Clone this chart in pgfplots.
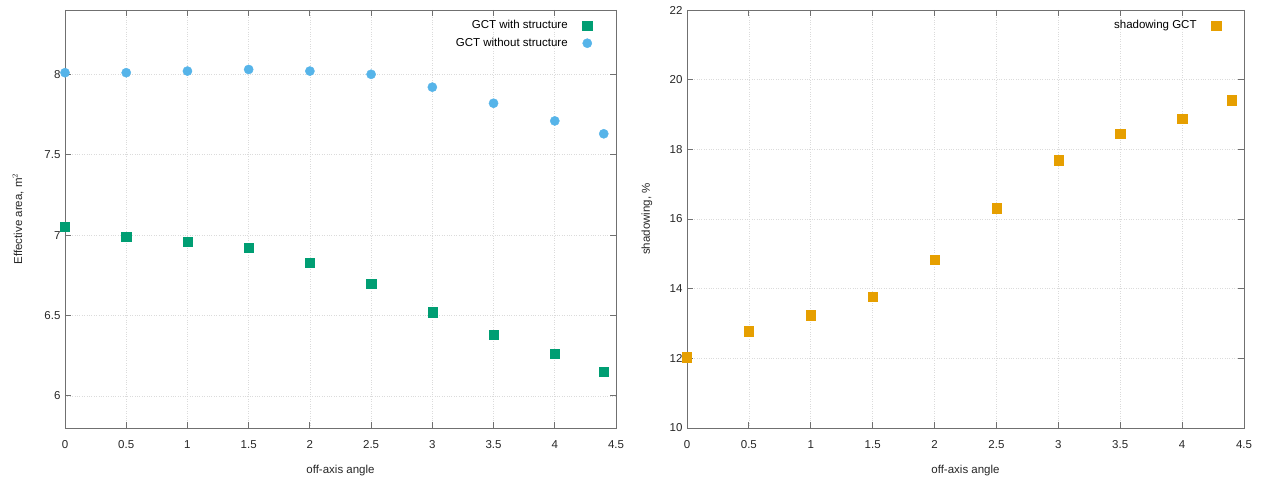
\documentclass[border=0pt]{standalone}
\usepackage{fontspec}
\setmainfont{Liberation Sans}
\usepackage{pgfplots}
\pgfplotsset{compat=1.18}
\definecolor{cgreen}{HTML}{009E73}
\definecolor{cblue}{HTML}{56B4E9}
\definecolor{corange}{HTML}{E69F00}
\definecolor{axgray}{HTML}{707070}
\pgfplotsset{
  myax/.style={
    scale only axis,
    width=551pt, height=418pt,
    font=\fontsize{11.5}{13}\selectfont,
    /pgf/number format/assume math mode=true,
    axis line style={axgray, line width=0.9pt},
    tick style={axgray, line width=0.9pt},
    major tick length=6pt,
    tick align=inside,
    xtick pos=both, ytick pos=both,
    grid=major,
    major grid style={dotted, gray!28, line width=0.6pt},
    tick label style={black!85},
    xmin=0, xmax=4.5,
    xtick={0,0.5,...,4.5},
    xticklabels={0,0.5,1,1.5,2,2.5,3,3.5,4,4.5},
    xticklabel style={yshift=-9pt},
    yticklabel style={xshift=-1pt},
    every axis x label/.style={at={(axis description cs:0.5,0)}, anchor=center, yshift=-43pt, black!85},
    legend cell align=right,
    legend plot pos=right,
    legend style={draw=none, fill=none, anchor=north east, font=\fontsize{11.5}{13}\selectfont, row sep=4pt, column sep=13pt},
  }
}
\begin{document}
\begin{tikzpicture}
\path[use as bounding box] (0,0) rectangle (1261pt,478pt);
\begin{axis}[myax,
  at={(65pt,50pt)}, anchor=south west,
  ymin=5.8, ymax=8.4,
  ytick={6,6.5,7,7.5,8},
  yticklabels={6,6.5,7,7.5,8},
  xlabel={off-axis angle},
  ylabel={Effective area, m$^2$},
  every axis y label/.style={at={(axis description cs:-0.0853,0.5)}, rotate=90, anchor=center, black!85},
  legend style={at={(axis description cs:0.962,0.985)}},
]
\addplot[only marks, mark=square*, mark size=4.6pt, cgreen, mark options={draw=cgreen, fill=cgreen}] coordinates {
(0,7.05) (0.5,6.99) (1,6.96) (1.5,6.92) (2,6.83) (2.5,6.70) (3,6.52) (3.5,6.38) (4,6.26) (4.4,6.15)};
\addlegendentry{GCT with structure}
\addplot[only marks, mark=*, mark size=4.6pt, cblue, mark options={draw=cblue, fill=cblue}] coordinates {
(0,8.01) (0.5,8.01) (1,8.02) (1.5,8.03) (2,8.02) (2.5,8.00) (3,7.92) (3.5,7.82) (4,7.71) (4.4,7.63)};
\addlegendentry{GCT without structure}
\end{axis}
\begin{axis}[myax,
  at={(687pt,50pt)}, anchor=south west,
  width=557pt,
  ymin=10, ymax=22,
  ytick={10,12,...,22},
  yticklabels={10,12,14,16,18,20,22},
  xlabel={off-axis angle},
  ylabel={shadowing, \%},
  every axis y label/.style={at={(axis description cs:-0.0718,0.5)}, rotate=90, anchor=center, black!85},
  legend style={at={(axis description cs:0.964,0.985)}},
]
\addplot[only marks, mark=square*, mark size=4.6pt, corange, mark options={draw=corange, fill=corange}] coordinates {
(0,12.03) (0.5,12.78) (1,13.24) (1.5,13.78) (2,14.84) (2.5,16.31) (3,17.69) (3.5,18.44) (4,18.87) (4.4,19.41)};
\addlegendentry{shadowing GCT}
\end{axis}
\end{tikzpicture}
\end{document}
